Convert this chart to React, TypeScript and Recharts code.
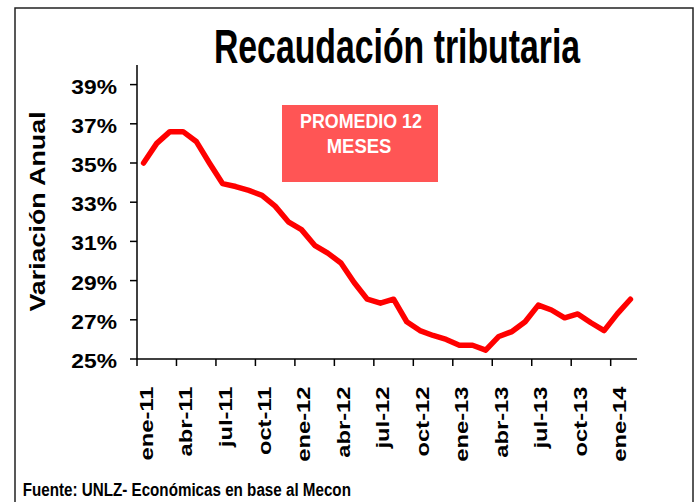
import { LineChart, Line, XAxis, YAxis } from "recharts";

const months = [
  "ene-11", "feb-11", "mar-11", "abr-11", "may-11", "jun-11",
  "jul-11", "ago-11", "sep-11", "oct-11", "nov-11", "dic-11",
  "ene-12", "feb-12", "mar-12", "abr-12", "may-12", "jun-12",
  "jul-12", "ago-12", "sep-12", "oct-12", "nov-12", "dic-12",
  "ene-13", "feb-13", "mar-13", "abr-13", "may-13", "jun-13",
  "jul-13", "ago-13", "sep-13", "oct-13", "nov-13", "dic-13",
  "ene-14", "feb-14",
];

// variación anual, promedio 12 meses (%)
const variacion = [
  35.0, 36.0, 36.6, 36.6, 36.1, 35.0,
  33.95, 33.8, 33.6, 33.35, 32.8, 32.0,
  31.6, 30.8, 30.4, 29.9, 28.9, 28.05,
  27.85, 28.05, 26.9, 26.45, 26.2, 26.0,
  25.7, 25.7, 25.45, 26.15, 26.4, 26.9,
  27.75, 27.5, 27.1, 27.3, 26.85, 26.45,
  27.3, 28.05,
];

const yTicks = [25, 27, 29, 31, 33, 35, 37, 39];

const data = months.map((mes, i) => ({ mes, valor: variacion[i] }));

const W = 694;
const H = 502;
const PLOT = { left: 137, top: 65, right: 637, bottom: 359 };
const band = (PLOT.right - PLOT.left) / months.length;
const FONT = "'Liberation Sans', Arial, sans-serif";

function MonthTick(props: any) {
  const { x, y, payload, index } = props;
  const i = typeof index === "number" ? index : months.indexOf(payload.value);
  if (i % 3 !== 0) return null;
  return (
    <g>
      <line
        x1={x - band / 2}
        x2={x - band / 2}
        y1={y}
        y2={y + 7}
        stroke="#000"
        strokeWidth={1.5}
      />
      <text
        transform={`translate(${x + 9},${y + 27.5}) rotate(-90) scale(1.25,1)`}
        textAnchor="end"
        fontFamily={FONT}
        fontWeight="bold"
        fontSize={19}
        fill="#000"
      >
        {payload.value}
      </text>
    </g>
  );
}

function PctTick(props: any) {
  const { x, y, payload } = props;
  return (
    <text
      transform={`translate(${x},${y + 9}) scale(1.14,1)`}
      textAnchor="end"
      fontFamily={FONT}
      fontWeight="bold"
      fontSize={20}
      fill="#000"
    >
      {payload.value}%
    </text>
  );
}

export default function App() {
  return (
    <div style={{ position: "absolute", left: 0, top: 0, width: W, height: H, background: "#fff" }}>
      <LineChart
        width={W}
        height={H}
        data={data}
        margin={{ top: PLOT.top, right: W - PLOT.right, left: 0, bottom: 0 }}
      >
        <XAxis
          dataKey="mes"
          scale="band"
          interval={0}
          height={H - PLOT.bottom}
          tickSize={0}
          tickMargin={0}
          tickLine={false}
          axisLine={{ stroke: "#000", strokeWidth: 1.5 }}
          tick={<MonthTick />}
        />
        <XAxis
          xAxisId="top"
          dataKey="mes"
          orientation="top"
          height={0}
          tick={false}
          tickLine={false}
          axisLine={{ stroke: "#333", strokeWidth: 1.5 }}
        />
        <YAxis
          domain={[25, 40]}
          ticks={yTicks}
          width={PLOT.left}
          tickSize={7}
          tickMargin={13}
          tickLine={{ stroke: "#000", strokeWidth: 1.5 }}
          axisLine={{ stroke: "#000", strokeWidth: 1.5 }}
          tick={<PctTick />}
          interval={0}
        />
        <YAxis
          yAxisId="right"
          orientation="right"
          domain={[25, 40]}
          width={0}
          tick={false}
          tickLine={false}
          axisLine={{ stroke: "#333", strokeWidth: 1.5 }}
        />
        <Line
          type="linear"
          dataKey="valor"
          stroke="#ff0000"
          strokeWidth={5.5}
          strokeLinejoin="round"
          strokeLinecap="round"
          dot={false}
          activeDot={false}
          isAnimationActive={false}
        />
      </LineChart>

      <svg
        width={W}
        height={H}
        style={{ position: "absolute", left: 0, top: 0, pointerEvents: "none" }}
      >
        <rect x={15} y={8} width={678} height={520} fill="none" stroke="#222" strokeWidth={1.5} />
        <text
          transform="translate(397,63) scale(0.69,1)"
          textAnchor="middle"
          fontFamily={FONT}
          fontWeight="bold"
          fontSize={49}
        >
          Recaudación tributaria
        </text>
        <text
          transform="translate(45,211.5) rotate(-90) scale(1.22,1)"
          textAnchor="middle"
          fontFamily={FONT}
          fontWeight="bold"
          fontSize={22}
        >
          Variación Anual
        </text>
        <rect x={282} y={105} width={156} height={77} fill="#ff5555" />
        <text
          transform="translate(361,128) scale(0.85,1)"
          textAnchor="middle"
          fill="#fff"
          fontFamily={FONT}
          fontWeight="bold"
          fontSize={21}
        >
          PROMEDIO 12
        </text>
        <text
          transform="translate(359,153) scale(0.88,1)"
          textAnchor="middle"
          fill="#fff"
          fontFamily={FONT}
          fontWeight="bold"
          fontSize={21}
        >
          MESES
        </text>
        <text
          transform="translate(22.7,496) scale(0.8,1)"
          fontFamily={FONT}
          fontWeight="bold"
          fontSize={19}
        >
          Fuente: UNLZ- Económicas en base al Mecon
        </text>
      </svg>
    </div>
  );
}
